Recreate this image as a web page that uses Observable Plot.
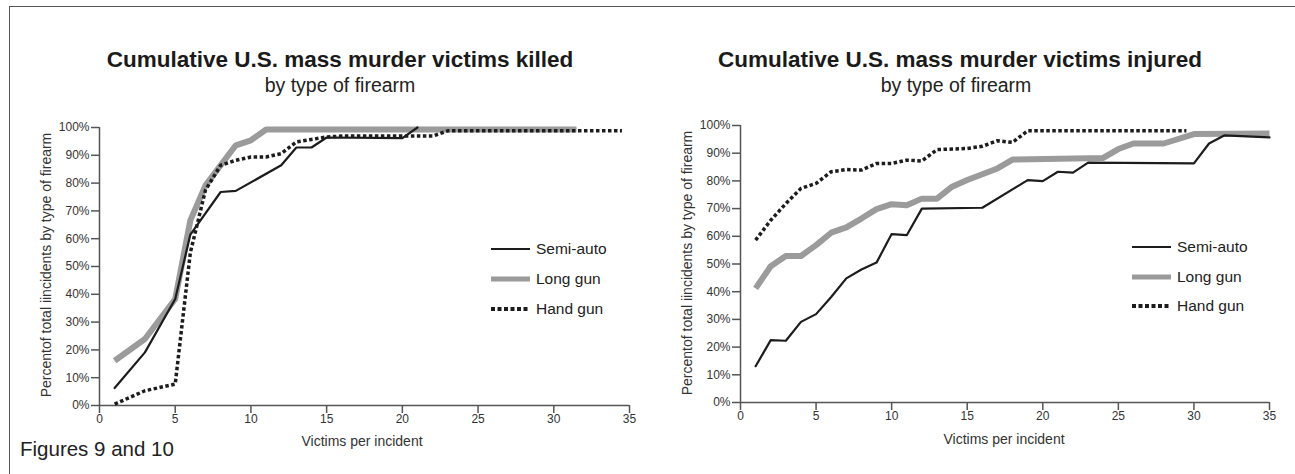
<!DOCTYPE html>
<html><head><meta charset="utf-8">
<script src="https://cdn.jsdelivr.net/npm/d3@7"></script>
<script src="https://cdn.jsdelivr.net/npm/@observablehq/plot@0.6"></script>
<style>
body{margin:0;background:#fff;width:1295px;height:474px;overflow:hidden;position:relative;font-family:"Liberation Sans",Arial,sans-serif;color:#222;}
.frame{position:absolute;left:9px;top:6px;width:1300px;height:480px;border-left:1.5px solid #555;border-top:1.5px solid #555;}
.abs{position:absolute;white-space:nowrap;}
.title{font-weight:bold;font-size:22.5px;line-height:20px;color:#1a1a1a;transform:translateX(-50%);}
.sub{font-size:19.5px;line-height:18px;color:#222;transform:translateX(-50%);}
.ylab{font-size:14px;line-height:14px;color:#333;transform:translate(-50%,-50%) rotate(-90deg);}
.xlab{font-size:14px;line-height:14px;color:#333;transform:translateX(-50%);}
.leg{font-size:15.5px;line-height:16px;color:#222;display:flex;align-items:center;}
.leg svg{margin-right:6px;}
#left,#right{position:absolute;top:0;}
#left{left:0;} #right{left:650px;}
</style></head><body>
<div class="frame"></div>
<div id="left"></div><div id="right"></div>
<script>
// ---- data ----
const xTicks = [0,5,10,15,20,25,30,35];
const yTicks = [0,10,20,30,40,50,60,70,80,90,100];
const seriesNames = ["Semi-auto","Long gun","Hand gun"];
const titles = ["Cumulative U.S. mass murder victims killed","Cumulative U.S. mass murder victims injured"];
const subtitle = "by type of firearm";
const yLabel = "Percentof total iincidents by type of firearm";
const xLabel = "Victims per incident";
const footer = "Figures 9 and 10";

// Killed (left)
const killedSemiX = [1,3,5,6,8,9,12,13,14,15,20,21];
const killedSemiY = [6.3,19.1,38.3,61.5,76.8,77.2,86.4,92.8,92.8,96.4,96.2,100];
const killedLongX = [1,3,5,6,7,8,9,10,11,31.5];
const killedLongY = [16.1,23.9,38.3,66.6,79.2,86.4,93.6,95.4,99.3,99.3];
const killedHandX = [1,3,5,6,7,8,9,10,11,12,13,14,15,16,22,23,34.5];
const killedHandY = [0.5,5.3,7.7,55,77.5,86.4,88.2,89.4,89.4,90.6,94.8,95.7,96.6,96.9,96.9,98.8,98.8];

// Injured (right)
const injSemiX = [1,2,3,4,5,6,7,8,9,10,11,12,16,19,20,21,22,23,30,31,32,35];
const injSemiY = [13.1,22.5,22.3,29.1,31.9,38.1,44.8,48,50.5,60.8,60.4,70,70.3,80.3,79.9,83.3,83,86.6,86.3,93.5,96.4,95.7];
const injLongX = [1,2,3,4,5,6,7,8,9,10,11,12,13,14,15,16,17,18,24,25,26,28,30,35];
const injLongY = [41.2,49.2,52.9,52.9,56.8,61.3,63.2,66.4,69.8,71.6,71.2,73.6,73.6,77.9,80.3,82.4,84.5,87.7,88.3,91.5,93.5,93.5,96.9,97.1];
const injHandX = [1,2,3,4,5,6,7,8,9,10,11,12,13,14,15,16,17,18,19,29.5];
const injHandY = [58.6,65.8,71.8,77.3,79.1,83.3,84.1,83.9,86.3,86.3,87.5,87.2,91.3,91.5,91.7,92.5,94.5,93.9,98.1,98.1];

// ---- styles ----
const styles = {
  "Semi-auto": {stroke:"#1c1c1c", strokeWidth:2.2, strokeLinecap:"round", strokeDasharray:null},
  "Long gun": {stroke:"#9b9b9b", strokeWidth:6, strokeLinecap:"butt", strokeDasharray:null},
  "Hand gun": {stroke:"#1c1c1c", strokeWidth:3.5, strokeLinecap:"butt", strokeDasharray:"3.5,2.5"}
};
const rows = (xs, ys) => xs.map((x,i)=>({x, y: ys[i]}));

function makeChart(semi, long, hand, o){
  const lineMark = (data, name) => Plot.line(data, {x:"x", y:"y", stroke:styles[name].stroke, strokeWidth:styles[name].strokeWidth,
      strokeLinecap:styles[name].strokeLinecap, strokeLinejoin:"round", strokeDasharray:styles[name].strokeDasharray});
  return Plot.plot({
    width:o.width, height:474,
    marginLeft:o.ml, marginRight:o.mr, marginTop:o.mt, marginBottom:o.mb,
    style:{color:"#333", fontFamily:"'Liberation Sans', Arial, sans-serif", fontSize:"12px", background:"transparent"},
    x:{domain:[0,35]}, y:{domain:[0,100]},
    marks:[
      Plot.axisX({ticks:xTicks, tickSize:8, tickPadding:1, strokeWidth:1.5, stroke:"#555", fontSize:12, label:null}),
      Plot.axisY({ticks:yTicks, tickSize:8, tickPadding:2, strokeWidth:1.5, stroke:"#555", fontSize:12, label:null, tickFormat:d=>d+"%"}),
      Plot.ruleY([0], {stroke:"#555", strokeWidth:1.5}),
      Plot.ruleX([0], {stroke:"#555", strokeWidth:1.5}),
      lineMark(rows(long[0], long[1]), "Long gun"),
      lineMark(rows(semi[0], semi[1]), "Semi-auto"),
      lineMark(rows(hand[0], hand[1]), "Hand gun")
    ]
  });
}

document.getElementById("left").append(makeChart([killedSemiX,killedSemiY],[killedLongX,killedLongY],[killedHandX,killedHandY],
  {width:650, ml:99, mr:21, mt:127, mb:69}));
document.getElementById("right").append(makeChart([injSemiX,injSemiY],[injLongX,injLongY],[injHandX,injHandY],
  {width:645, ml:90, mr:26, mt:125, mb:72}));

function addDiv(cls, text, left, top){
  const d=document.createElement("div"); d.className="abs "+cls; d.textContent=text;
  d.style.left=left+"px"; d.style.top=top+"px"; document.body.append(d); return d;
}
function legendSwatch(name){
  const s=styles[name];
  const ns="http://www.w3.org/2000/svg";
  const svg=document.createElementNS(ns,"svg"); svg.setAttribute("width","39"); svg.setAttribute("height","8");
  const l=document.createElementNS(ns,"line");
  l.setAttribute("x1","0"); l.setAttribute("x2","39"); l.setAttribute("y1","4"); l.setAttribute("y2","4");
  l.setAttribute("stroke",s.stroke); l.setAttribute("stroke-width",s.strokeWidth===6?5:s.strokeWidth===3.5?4:2.2);
  if(s.strokeDasharray) l.setAttribute("stroke-dasharray","4,2.5");
  svg.append(l); return svg;
}
function addLegend(x, ys){
  seriesNames.forEach((n,i)=>{
    const d=document.createElement("div"); d.className="abs leg";
    d.style.left=x+"px"; d.style.top=(ys[i]-8)+"px";
    d.append(legendSwatch(n)); const t=document.createElement("span"); t.textContent=n; d.append(t);
    document.body.append(d);
  });
}

// titles
addDiv("title", titles[0], 340, 50);
addDiv("sub", subtitle, 340, 76);
addDiv("title", titles[1], 960, 50);
addDiv("sub", subtitle, 956, 76);
// axis labels
addDiv("ylab", yLabel, 46, 265);
addDiv("ylab", yLabel, 687, 263);
addDiv("xlab", xLabel, 362, 434);
addDiv("xlab", xLabel, 1004, 432);
addDiv("", footer, 20, 437).style.fontSize="20.5px";
addLegend(491, [249,279,309]);
addLegend(1132, [247,277,306]);
</script>
</body></html>
